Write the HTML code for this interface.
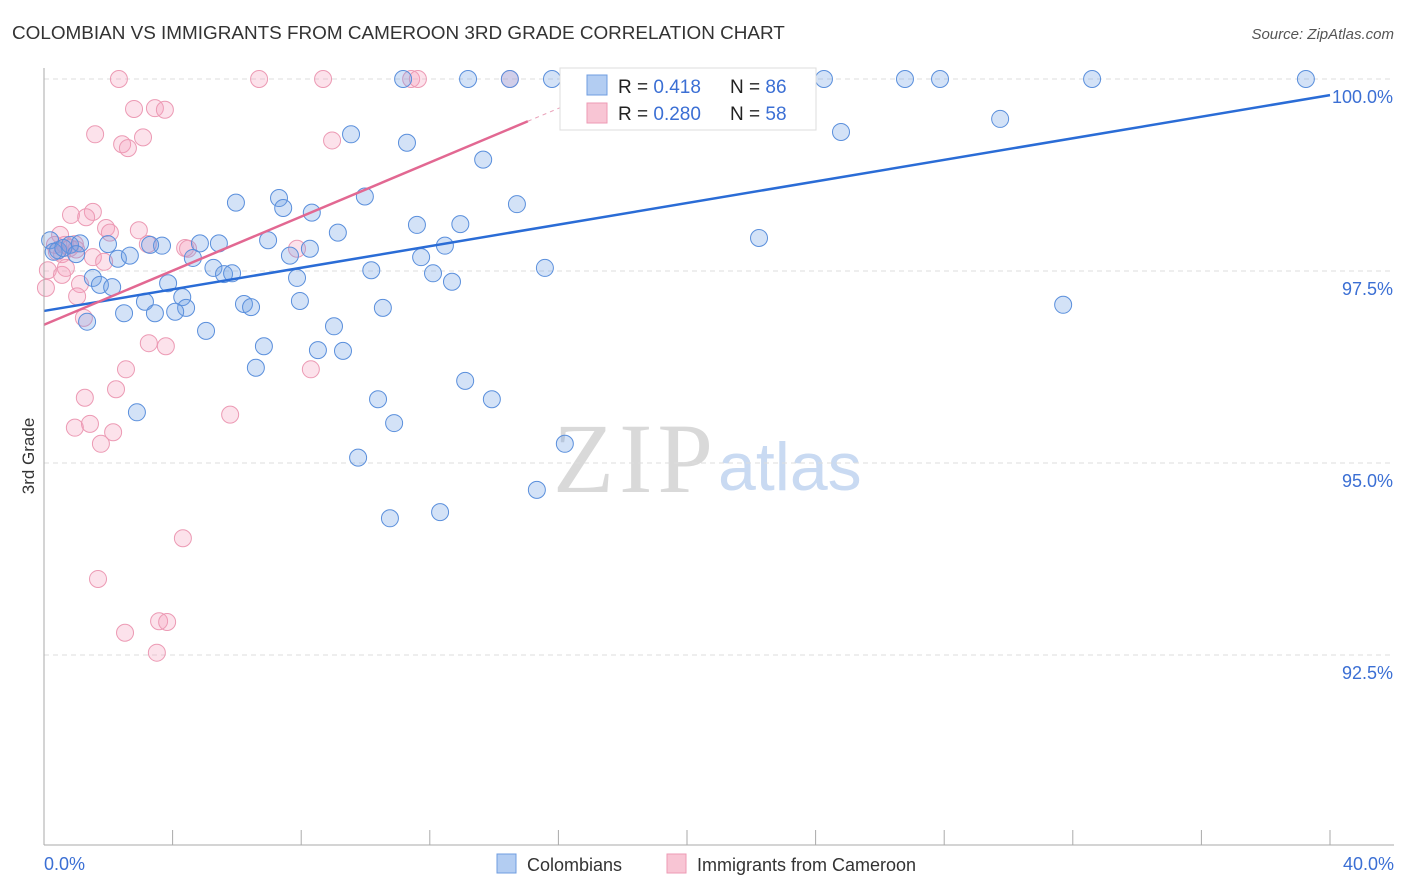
<!DOCTYPE html>
<html><head><meta charset="utf-8"><style>
body{margin:0;background:#fff;font-family:"Liberation Sans",sans-serif}
#c{position:relative;width:1406px;height:892px;overflow:hidden}
</style></head><body><div id="c">
<svg id="s" width="1406" height="892" xmlns="http://www.w3.org/2000/svg">
<text x="12" y="39" font-size="18.9" fill="#333">COLOMBIAN VS IMMIGRANTS FROM CAMEROON 3RD GRADE CORRELATION CHART</text>
<text x="1394" y="39" font-size="15" fill="#555" font-style="italic" text-anchor="end">Source: ZipAtlas.com</text>
<text x="553" y="492" font-size="100" fill="#d9d9d9" textLength="160" font-family="Liberation Serif,serif">ZIP</text>
<text x="718" y="490" font-size="68" fill="#c9daf2">atlas</text>
<text transform="translate(34,456) rotate(-90)" font-size="17" fill="#333" text-anchor="middle">3rd Grade</text>
<g id="grid"></g><g id="pts"></g><g id="lines"></g>
<line x1="44" y1="68" x2="44" y2="845" stroke="#aaa"/>
<line x1="44" y1="845" x2="1394" y2="845" stroke="#aaa"/>
<text x="44" y="870" font-size="18" fill="#3b6fd4">0.0%</text>
<text x="1394" y="870" font-size="18" fill="#3b6fd4" text-anchor="end">40.0%</text>
<g>
<rect x="560" y="68" width="256" height="62" fill="#fff" stroke="#ddd"/>
<rect x="587" y="75" width="20" height="20" fill="#b3cdf2" stroke="#6f9de0"/>
<rect x="587" y="103" width="20" height="20" fill="#f8c5d4" stroke="#ee9ab4"/>
<text x="618" y="93" font-size="19" fill="#222">R = <tspan fill="#3b6fd4">0.418</tspan><tspan x="730">N = </tspan><tspan fill="#3b6fd4">86</tspan></text>
<text x="618" y="120" font-size="19" fill="#222">R = <tspan fill="#3b6fd4">0.280</tspan><tspan x="730">N = </tspan><tspan fill="#3b6fd4">58</tspan></text>
</g>
<g><rect x="497" y="854" width="19" height="19" fill="#b3cdf2" stroke="#6f9de0"/><text x="527" y="871" font-size="18" fill="#333">Colombians</text></g>
<g><rect x="667" y="854" width="19" height="19" fill="#f8c5d4" stroke="#ee9ab4"/><text x="697" y="871" font-size="18" fill="#333">Immigrants from Cameroon</text></g>
</svg></div>
<script>
const yTicks=[100,97.5,95,92.5];
const yTickLabels=["100.0%","97.5%","95.0%","92.5%"];
const blueX=[11.17,13.19,14.49,15.8,17.23,19.47,24.26,26.78,27.87,32.6,39.25,9.55,11.29,13.66,24.79,29.74,5.97,7.31,7.44,8.33,9.98,11.6,12.95,14.71,9.14,22.24,0.19,0.44,0.81,1.12,1.99,2.3,2.67,3.67,3.3,4.85,5.44,4.63,5.27,5.6,5.85,6.97,7.65,8.27,7.87,10.18,11.73,12.1,12.47,12.69,15.58,1.52,1.74,2.12,1.34,2.49,3.14,3.45,3.86,4.3,4.42,4.08,5.04,6.22,6.44,7.96,10.54,9.02,6.84,8.52,9.3,6.59,13.1,13.93,10.39,10.89,2.89,9.77,16.2,15.33,12.32,10.76,31.7,0.3,0.6,1.0];
const blueY=[100,100,100,100,99.95,100,100,100,100,100,100,99.28,99.17,98.95,99.31,99.48,98.39,98.45,98.32,98.26,98.47,98.1,98.11,98.37,98.0,97.93,97.9,97.77,97.84,97.86,97.85,97.66,97.7,97.83,97.84,97.86,97.86,97.67,97.54,97.46,97.47,97.9,97.7,97.79,97.41,97.51,97.68,97.47,97.83,97.36,97.54,97.41,97.32,97.29,96.84,96.95,97.1,96.95,97.34,97.16,97.02,96.97,96.72,97.07,97.03,97.11,97.02,96.78,96.52,96.47,96.46,96.24,96.07,95.83,95.83,95.52,95.66,95.07,95.25,94.65,94.36,94.28,97.06,97.75,97.8,97.72];
const pinkX=[2.33,6.69,8.68,11.42,11.63,14.49,2.8,3.45,3.76,1.59,3.08,2.43,2.61,8.96,0.84,1.52,1.31,1.93,2.05,2.95,0.5,0.34,0.65,0.96,0.56,1.52,1.87,3.23,4.39,4.48,7.87,0.12,0.56,0.68,0.06,1.12,1.03,1.24,3.26,3.79,2.55,2.24,8.3,1.27,5.79,0.96,1.43,2.15,1.77,4.32,1.68,2.52,3.58,3.83,3.51,0.4,0.8,1.0];
const pinkY=[100,100,100,100,100,100,99.61,99.62,99.6,99.28,99.24,99.15,99.1,99.2,98.23,98.27,98.2,98.06,98.0,98.03,97.97,97.84,97.84,97.85,97.72,97.68,97.62,97.85,97.8,97.79,97.79,97.51,97.45,97.54,97.28,97.33,97.17,96.89,96.56,96.52,96.22,95.96,96.22,95.85,95.63,95.46,95.51,95.4,95.25,94.02,93.49,92.79,92.94,92.93,92.53,97.75,97.8,97.78];
const trendBlue=[96.98,99.79];
const trendPink=[96.8,99.45,15.05];
const X=v=>44+v/40*1286, Y=v=>79+(100-v)*76.8;
const NS="http://www.w3.org/2000/svg";
function mk(t,a,p){const e=document.createElementNS(NS,t);for(const k in a)e.setAttribute(k,a[k]);p.appendChild(e);return e;}
const grid=document.getElementById('grid'),pts=document.getElementById('pts'),lines=document.getElementById('lines'),svg=document.getElementById('s');
yTicks.forEach((t,i)=>{
 const l=mk('line',{x1:44,x2:1394,y1:Y(t),y2:Y(t),stroke:'#ddd','stroke-dasharray':'5,4'},grid);
 
 
 const tx=mk('text',{x:1393,y:Y(t)+24,'font-size':18,fill:'#3b6fd4','text-anchor':'end'},svg);
 tx.textContent=yTickLabels[i];
 
 
});
for(let i=1;i<=10;i++){const t=mk('line',{x1:X(i*4),x2:X(i*4),y1:830,y2:845,stroke:'#aaa'},grid);
 
 }
function dots(xs,ys,fill,stroke,name){xs.forEach((x,i)=>{const c=mk('circle',{cx:X(x),cy:Y(ys[i]),r:8.5,fill:fill,stroke:stroke,'stroke-width':1},pts);
 
 });}
dots(pinkX,pinkY,'rgba(244,160,188,0.3)','#ec9ab4','cameroon-point');
dots(blueX,blueY,'rgba(110,160,230,0.3)','#5a8fdc','colombian-point');
const lb=mk('line',{x1:X(0),y1:Y(trendBlue[0]),x2:X(40),y2:Y(trendBlue[1]),stroke:'#2a6cd6','stroke-width':2.5},lines);


const lp=mk('line',{x1:X(0),y1:Y(trendPink[0]),x2:X(trendPink[2]),y2:Y(trendPink[1]),stroke:'#e26892','stroke-width':2.5},lines);


const s=(trendPink[1]-trendPink[0])/trendPink[2];
const ld=mk('line',{x1:X(trendPink[2]),y1:Y(trendPink[1]),x2:X(17),y2:Y(trendPink[0]+s*17),stroke:'#e9a0b8','stroke-width':1,'stroke-dasharray':'4,4'},lines);


</script></body></html>
